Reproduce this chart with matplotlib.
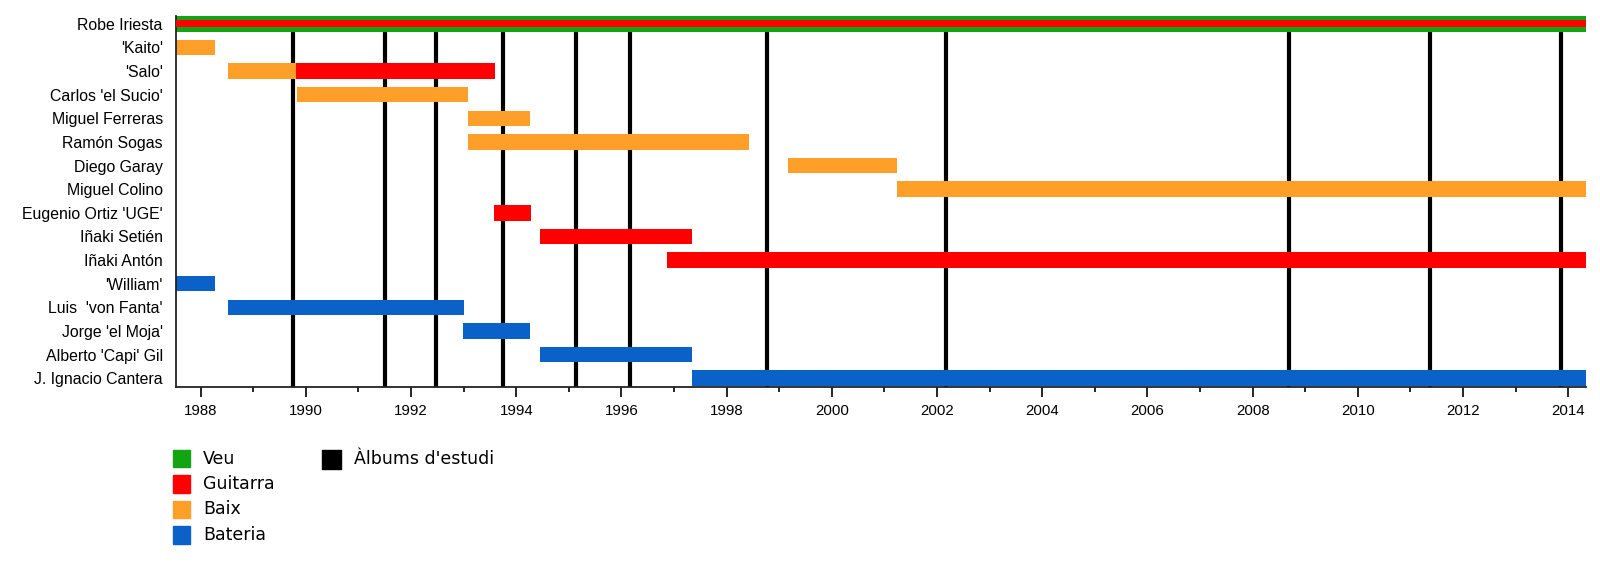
import matplotlib
matplotlib.use('Agg')
import matplotlib.pyplot as plt
from matplotlib.patches import Rectangle

# membres (de dalt a baix)
members = ['Robe Iriesta', "'Kaito'", "'Salo'", "Carlos 'el Sucio'", 'Miguel Ferreras',
           'Ramón Sogas', 'Diego Garay', 'Miguel Colino', "Eugenio Ortiz 'UGE'",
           'Iñaki Setién', 'Iñaki Antón', "'William'", "Luis  'von Fanta'",
           "Jorge 'el Moja'", "Alberto 'Capi' Gil", 'J. Ignacio Cantera']

# trams de cada membre: index del membre, inici, final, rol
seg_member = [0, 1, 2, 2, 3, 4, 5, 6, 7, 8, 9, 10, 11, 12, 13, 14, 15]
seg_start = [1987.53, 1987.53, 1988.51, 1989.81, 1989.84, 1993.08, 1993.08, 1999.17, 2001.24,
             1993.58, 1994.46, 1996.86, 1987.53, 1988.51, 1992.99, 1994.46, 1997.35]
seg_end = [2014.34, 1988.27, 1989.81, 1993.60, 1993.09, 1994.27, 1998.43, 2001.24, 2014.34,
           1994.28, 1997.35, 2014.34, 1988.27, 1993.01, 1994.27, 1997.35, 2014.34]
seg_role = ['Veu', 'Baix', 'Baix', 'Guitarra', 'Baix', 'Baix', 'Baix', 'Baix', 'Baix',
            'Guitarra', 'Guitarra', 'Guitarra', 'Bateria', 'Bateria', 'Bateria', 'Bateria', 'Bateria']

# Robe també toca la guitarra (franja del mig)
robe_guitar = (1987.53, 2014.34)

albums = [1989.75, 1991.50, 1992.47, 1993.75, 1995.14, 1996.16, 1998.76,
          2002.17, 2008.69, 2011.37, 2013.86]

roles = ['Veu', 'Guitarra', 'Baix', 'Bateria']
colors = {'Veu': '#12a412', 'Guitarra': '#ff0000', 'Baix': '#fd9f29',
          'Bateria': '#0a62c9', "Àlbums d'estudi": '#000000'}

fig = plt.figure(figsize=(16, 5.62), dpi=100)
ax = fig.add_axes([176 / 1600, 1 - 386.7 / 562, (1586 - 176) / 1600, (386.7 - 16) / 562])

# albums d'estudi, per sota dels trams
ax.vlines(albums, 0, 15.6, colors='black', linewidth=3, zorder=1)

for m, s, e, r in zip(seg_member, seg_start, seg_end, seg_role):
    ax.barh(m, e - s, left=s, height=0.66, color=colors[r], zorder=2)
ax.barh(0, robe_guitar[1] - robe_guitar[0], left=robe_guitar[0], height=0.28,
        color=colors['Guitarra'], zorder=3)

ax.set_xlim(1987.53, 2014.34)
ax.set_ylim(15.36, -0.33)
ax.set_yticks(range(len(members)))
ax.set_yticklabels(members, family='Liberation Sans', fontsize=11.4)
ax.tick_params(axis='y', length=0, pad=9.5)

ax.set_xticks(range(1988, 2015, 2))
ax.set_xticks(range(1989, 2015, 2), minor=True)
ax.tick_params(axis='x', which='major', length=7.2, width=1.2, pad=5.5, labelsize=10.8)
ax.tick_params(axis='x', which='minor', length=3.6, width=1.2)
for lab in ax.get_xticklabels():
    lab.set_family('Liberation Sans')

for side in ['top', 'right']:
    ax.spines[side].set_visible(False)
for side in ['left', 'bottom']:
    ax.spines[side].set_linewidth(1.3)
    ax.spines[side].set_color('#222222')

# llegenda
def legend_item(x, y, size, label):
    fig.add_artist(Rectangle(((x) / 1600, 1 - (y + size / 2) / 562), size / 1600, size / 562,
                             transform=fig.transFigure, color=colors[label]))
    fig.text((x + size + 13) / 1600, 1 - y / 562, label, family='DejaVu Sans',
             fontsize=12.5, va='center', ha='left')

for i, r in enumerate(roles):
    legend_item(172.5, 458.5 + i * 25.5, 17.5, r)
legend_item(322, 459, 19, "Àlbums d'estudi")

fig.savefig('out.png', dpi=100)
